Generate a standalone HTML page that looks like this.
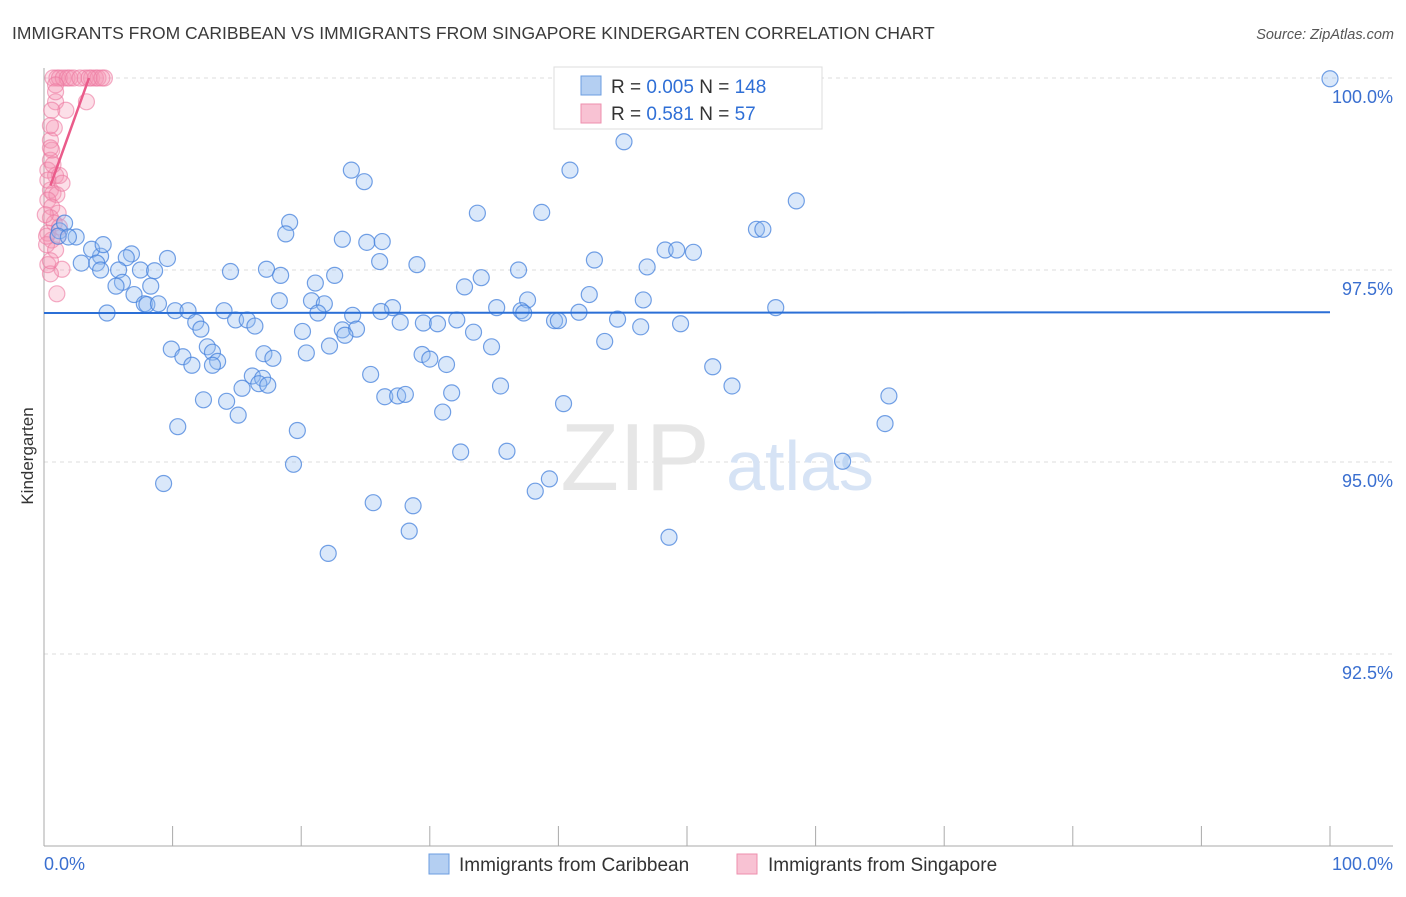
<!DOCTYPE html>
<html><head><meta charset="utf-8"><style>
body{margin:0;background:#fff;font-family:"Liberation Sans",sans-serif;}
svg text{font-family:"Liberation Sans",sans-serif;}
</style></head><body>
<svg id="chart" width="1406" height="892" xmlns="http://www.w3.org/2000/svg">
<text x="12" y="39" font-size="17.5" fill="#3a3a3a">IMMIGRANTS FROM CARIBBEAN VS IMMIGRANTS FROM SINGAPORE KINDERGARTEN CORRELATION CHART</text>
<text x="1394" y="39" font-size="14.5" fill="#555" text-anchor="end" font-style="italic">Source: ZipAtlas.com</text>
<g id="grid"></g>
<g><text x="635" y="490" font-size="96" fill="#e6e6e6" text-anchor="middle" font-family="Liberation Serif">ZIP</text><text x="800" y="490" font-size="70" fill="#d6e3f5" text-anchor="middle">atlas</text></g>
<g id="pink"></g><g id="blue"></g><g id="lines"></g>
<text transform="translate(33,456) rotate(-90)" font-size="17" fill="#333" text-anchor="middle">Kindergarten</text>
<g>
<rect x="554" y="67" width="268" height="62" fill="#fff" stroke="#ddd"/>
<rect x="581" y="76" width="20" height="19" fill="#b4cff2" stroke="#6b9de0"/>
<rect x="581" y="104" width="20" height="19" fill="#f8c2d3" stroke="#ee8fae"/>
<text x="611" y="93" font-size="19" fill="#333">R = <tspan fill="#2f6fd6">0.005</tspan>   N = <tspan fill="#2f6fd6">148</tspan></text>
<text x="611" y="120" font-size="19" fill="#333">R =  <tspan fill="#2f6fd6"> 0.581</tspan>   N =  <tspan fill="#2f6fd6"> 57</tspan></text>
</g>
<g>
<rect x="429" y="854" width="20" height="20" fill="#b4cff2" stroke="#6b9de0"/>
<text x="459" y="871" font-size="19" fill="#333">Immigrants from Caribbean</text>
<rect x="737" y="854" width="20" height="20" fill="#f8c2d3" stroke="#ee8fae"/>
<text x="768" y="871" font-size="19" fill="#333">Immigrants from Singapore</text>
</g>
</svg>
<script>
const yTicks=[100,97.5,95,92.5];
const yTickLabels=["100.0%","97.5%","95.0%","92.5%"];
const xEndLabels=["0.0%","100.0%"];
const blueX=[100,52.4,45.1,23.9,24.9,40.9,58.5,33.7,38.7,19.1,18.8,55.4,55.9,23.2,25.1,26.3,48.3,49.2,50.5,42.8,26.1,29.0,9.6,6.8,6.4,4.4,3.7,2.5,1.2,1.6,1.1,1.9,4.6,2.9,4.1,4.4,5.8,6.1,5.6,7.5,8.6,8.3,14.5,17.3,18.4,21.1,22.6,36.9,34.0,32.7,46.9,42.4,46.6,37.6,37.1,35.2,56.9,7.0,7.8,8.0,8.9,10.2,11.2,14.0,18.3,20.8,21.8,27.1,26.2,32.1,4.9,11.8,12.2,14.9,15.8,16.4,21.3,23.2,24.0,24.3,23.4,27.7,29.5,30.6,37.3,39.7,40.0,41.6,44.6,46.4,49.5,20.1,22.2,20.4,9.9,10.8,11.5,12.7,13.1,13.5,13.1,17.1,17.8,33.4,34.8,43.6,29.4,31.3,30.0,25.4,16.2,17.0,16.7,15.4,17.4,35.5,52.0,53.5,19.7,12.4,14.2,15.1,26.5,27.5,28.1,31.7,31.0,40.4,65.7,65.4,10.4,19.4,32.4,36.0,62.1,9.3,39.3,38.2,25.6,28.7,28.4,48.6,22.1];
const blueY=[99.99,99.99,99.17,98.80,98.65,98.80,98.40,98.24,98.25,98.12,97.97,98.03,98.03,97.90,97.86,97.87,97.76,97.76,97.73,97.63,97.61,97.57,97.65,97.71,97.66,97.68,97.77,97.93,98.01,98.11,97.94,97.93,97.83,97.59,97.59,97.50,97.50,97.34,97.29,97.50,97.49,97.29,97.48,97.51,97.43,97.33,97.43,97.50,97.40,97.28,97.54,97.18,97.11,97.11,96.97,97.01,97.01,97.18,97.06,97.05,97.06,96.97,96.97,96.97,97.10,97.10,97.06,97.01,96.96,96.85,96.94,96.82,96.73,96.85,96.85,96.77,96.94,96.72,96.91,96.73,96.65,96.82,96.81,96.80,96.94,96.84,96.84,96.95,96.86,96.76,96.80,96.70,96.51,96.42,96.47,96.37,96.26,96.50,96.43,96.31,96.26,96.41,96.35,96.69,96.50,96.57,96.40,96.27,96.34,96.14,96.12,96.09,96.02,95.96,96.00,95.99,96.24,95.99,95.41,95.81,95.79,95.61,95.85,95.86,95.88,95.90,95.65,95.76,95.86,95.50,95.46,94.97,95.13,95.14,95.01,94.72,94.78,94.62,94.47,94.43,94.10,94.02,93.81];
const pinkX=[0.7,1.0,1.2,1.5,1.8,2.0,2.3,3.2,3.7,4.0,4.2,4.7,0.9,0.9,3.3,1.7,0.6,0.8,0.5,0.6,0.5,0.3,0.9,1.2,0.5,0.7,1.0,0.3,0.6,1.1,0.5,0.8,1.2,0.3,0.6,0.2,0.9,0.3,1.4,0.5,1.0,0.2,0.5,1.4,0.3,0.1,1.1,0.5,0.9,2.8,3.5,4.5,0.5,0.7];
const pinkY=[100,100,100,100,100,100,100,100,100,100,100,100,99.91,99.69,99.69,99.58,99.58,99.35,99.19,99.06,98.93,98.80,98.73,98.73,98.54,98.50,98.48,98.41,98.32,98.24,98.18,98.11,98.06,97.98,97.89,97.83,97.76,97.57,97.51,97.45,97.19,97.94,97.62,98.63,98.67,98.22,97.94,99.38,99.82,100,100,100,99.09,98.87];
const blueTrend=[[0,96.94],[100,96.95]];
const pinkTrend=[[0.5,98.6],[3.5,100]];
const X=v=>44+v/100*1286, Y=v=>78+(100-v)*76.8;
const NS="http://www.w3.org/2000/svg";
function mk(tag,attrs,parent){const e=document.createElementNS(NS,tag);for(const k in attrs)e.setAttribute(k,attrs[k]);parent.appendChild(e);return e;}
const svg=document.getElementById('chart'),grid=document.getElementById('grid');
yTicks.forEach((t,i)=>{
 const l=mk('line',{x1:44,x2:1393,y1:Y(t),y2:Y(t),stroke:'#dcdcdc','stroke-dasharray':'4,4'},grid);
 
 
 const tx=mk('text',{x:1393,y:Y(t)+25,'font-size':18,fill:'#3a6fd0','text-anchor':'end'},grid);
 tx.textContent=yTickLabels[i];
 
 
});
const ax=mk('line',{x1:44,x2:1393,y1:846,y2:846,stroke:'#aaa'},grid);


const ay=mk('line',{x1:44,x2:44,y1:68,y2:846,stroke:'#aaa'},grid);


for(let i=0;i<=10;i++){
 const tk=mk('line',{x1:X(i*10),x2:X(i*10),y1:826,y2:846,stroke:'#aaa'},grid);
 
 
}
[[0,'start',44],[1,'end',1393]].forEach(([i,a,x])=>{
 const t=mk('text',{x:x,y:870,'font-size':18,fill:'#3a6fd0','text-anchor':a},grid);
 t.textContent=xEndLabels[i];
 
 
});
const pg=document.getElementById('pink');
pinkX.forEach((x,i)=>{
 const c=mk('circle',{cx:X(x),cy:Y(pinkY[i]),r:8,fill:'rgba(244,150,180,0.3)',stroke:'rgba(236,120,160,0.6)','stroke-width':1.2},pg);
 
 
});
const bg=document.getElementById('blue');
blueX.forEach((x,i)=>{
 const c=mk('circle',{cx:X(x),cy:Y(blueY[i]),r:8,fill:'rgba(150,190,240,0.35)',stroke:'rgba(70,130,220,0.75)','stroke-width':1.2},bg);
 
 
});
const lg=document.getElementById('lines');
const bl=mk('line',{x1:X(blueTrend[0][0]),y1:Y(blueTrend[0][1]),x2:X(blueTrend[1][0]),y2:Y(blueTrend[1][1]),stroke:'#2b6fd6','stroke-width':2},lg);


const pl=mk('line',{x1:X(pinkTrend[0][0]),y1:Y(pinkTrend[0][1]),x2:X(pinkTrend[1][0]),y2:Y(pinkTrend[1][1]),stroke:'#ea5b8a','stroke-width':2.5},lg);


</script>
</body></html>
